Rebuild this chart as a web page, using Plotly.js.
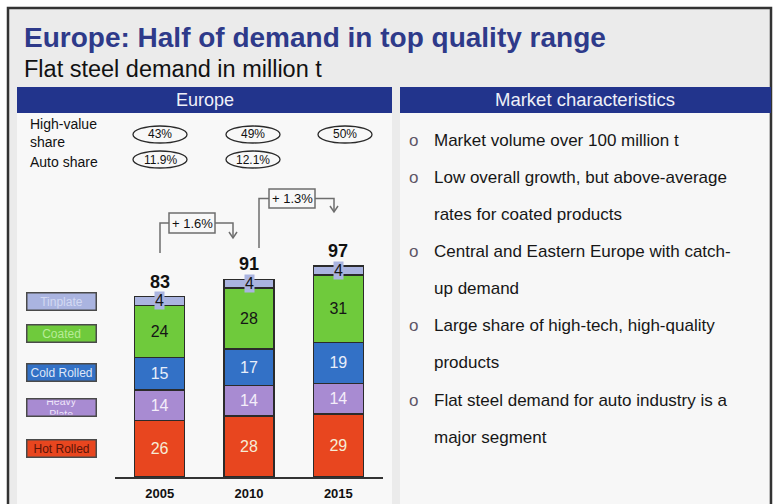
<!DOCTYPE html>
<html>
<head>
<meta charset="utf-8">
<script src="https://cdn.plot.ly/plotly-3.0.1.min.js"></script>
<style>
html,body{margin:0;padding:0;background:#ffffff;}
#chart{width:774px;height:504px;}
</style>
</head>
<body>
<div id="chart"></div>
<script>
// ---------------- DATA ----------------
const years = ['2005', '2010', '2015'];
const hotRolled = [26, 28, 29];
const heavyPlate = [14, 14, 14];
const coldRolled = [15, 17, 19];
const coated = [24, 28, 31];
const tinplate = [4, 4, 4];
const seriesNames = ['Hot Rolled', 'Heavy Plate', 'Cold Rolled', 'Coated', 'Tinplate'];
const highValueShare = ['43%', '49%', '50%'];
const autoShare = ['11.9%', '12.1%'];
const growthRates = ['+ 1.6%', '+ 1.3%'];
const titleText = 'Europe: Half of demand in top quality range';
const subtitleText = 'Flat steel demand in million t';
const leftHeader = 'Europe';
const rightHeader = 'Market characteristics';
const bulletLines = [
  ['Market volume over 100 million t'],
  ['Low overall growth, but above-average', 'rates for coated products'],
  ['Central and Eastern Europe with catch-', 'up demand'],
  ['Large share of high-tech, high-quality', 'products'],
  ['Flat steel demand for auto industry is a', 'major segment']
];

// ---------------- STYLE ----------------
const W = 774, H = 504;
const FONT = 'Liberation Sans, Arial, Helvetica, sans-serif';
const colors = {
  'Hot Rolled': '#e8461f',
  'Heavy Plate': '#a88bd2',
  'Cold Rolled': '#3371c6',
  'Coated': '#6fca3c',
  'Tinplate': '#aab4e0'
};
const labelColors = {
  'Hot Rolled': '#f6ecd6',
  'Heavy Plate': '#f4eefa',
  'Cold Rolled': '#e8eefa',
  'Coated': '#151515',
  'Tinplate': '#151515'
};
const legendTextColors = {
  'Hot Rolled': '#5a1408',
  'Heavy Plate': '#efe6fa',
  'Cold Rolled': '#dfe7f8',
  'Coated': '#b8ec98',
  'Tinplate': '#d3d9f2'
};
const px = x => x / W;
const py = y => 1 - y / H;

const seriesData = [hotRolled, heavyPlate, coldRolled, coated, tinplate];

// ---------------- TRACES ----------------
const traces = seriesNames.map((name, i) => ({
  type: 'bar',
  name: name,
  x: years,
  y: seriesData[i],
  marker: { color: colors[name], line: { color: '#2b2b2b', width: 1.5 } },
  text: name === 'Tinplate' ? undefined : seriesData[i].map(String),
  textposition: name === 'Tinplate' ? 'none' : 'inside',
  insidetextanchor: 'middle',
  textangle: 0,
  constraintext: 'none',
  textfont: { family: FONT, size: 16, color: labelColors[name] },
  hoverinfo: 'x+y+name',
  showlegend: false
}));

// ---------------- SHAPES ----------------
const shapes = [];
function rectPx(x0, y0, x1, y1, fill, lineColor, lw) {
  shapes.push({ type: 'rect', xref: 'paper', yref: 'paper', x0: px(x0), x1: px(x1), y0: py(y0), y1: py(y1),
    fillcolor: fill, line: { color: lineColor || fill, width: lw === undefined ? 0 : lw }, layer: 'below' });
}
function pathPx(pts, color, lw) {
  const d = pts.map((p, i) => (i ? 'L' : 'M') + px(p[0]).toFixed(5) + ',' + py(p[1]).toFixed(5)).join(' ');
  shapes.push({ type: 'path', xref: 'paper', yref: 'paper', path: d, line: { color: color, width: lw } });
}
function ellipsePx(cx, cy, w, h) {
  shapes.push({ type: 'circle', xref: 'paper', yref: 'paper', x0: px(cx - w / 2), x1: px(cx + w / 2),
    y0: py(cy + h / 2), y1: py(cy - h / 2), line: { color: '#2a2a2a', width: 1.3 }, fillcolor: 'rgba(0,0,0,0)' });
}

// outer frame
rectPx(8, 8, 771, 520, '#ebebeb', '#333333', 2.5);
// headers
rectPx(17, 87, 392, 113, '#22348c');
rectPx(400, 87, 771, 113, '#22348c');
// panels
rectPx(17, 113, 392, 520, '#f8f8f8');
rectPx(400, 113, 769, 520, '#f7f7f7');

// ellipses
const ellX = [160, 253, 345];
highValueShare.forEach((t, i) => ellipsePx(ellX[i], 134.5, 54, 17));
autoShare.forEach((t, i) => ellipsePx(ellX[i], 159.5, 54, 17));

// growth brackets
const gCol = '#6e6e6e';
const brackets = [
  { xs: 160, yb: 253, ym: 223, bx0: 169, bx1: 215, by0: 213, by1: 233, xe: 233, ye: 238 },
  { xs: 259, yb: 248, ym: 198.5, bx0: 269, bx1: 315, by0: 189, by1: 208, xe: 334, ye: 212 }
];
brackets.forEach(b => {
  pathPx([[b.xs, b.yb], [b.xs, b.ym], [b.bx0, b.ym]], gCol, 1.5);
  pathPx([[b.bx1, b.ym], [b.xe, b.ym], [b.xe, b.ye]], gCol, 1.5);
  pathPx([[b.xe - 4, b.ye - 6], [b.xe, b.ye], [b.xe + 4, b.ye - 6]], gCol, 1.5);
  shapes.push({ type: 'rect', xref: 'paper', yref: 'paper', x0: px(b.bx0), x1: px(b.bx1), y0: py(b.by1), y1: py(b.by0),
    line: { color: gCol, width: 1.5 }, fillcolor: 'rgba(255,255,255,0)' });
});

// ---------------- ANNOTATIONS ----------------
const ann = [];
function textPx(x, y, text, size, color, opts) {
  ann.push(Object.assign({ xref: 'paper', yref: 'paper', x: px(x), y: py(y), text: text, showarrow: false,
    xanchor: 'center', yanchor: 'middle', font: { family: FONT, size: size, color: color } }, opts || {}));
}
textPx(22, 38, titleText, 28, '#2e3a8a', { xanchor: 'left', font: { family: FONT, size: 28, color: '#2e3a8a', weight: 'bold' } });
textPx(22, 69, subtitleText, 23.5, '#111111', { xanchor: 'left' });
textPx(204.5, 100, leftHeader, 18, '#eef0f8');
textPx(585, 100, rightHeader, 18.5, '#eef0f8');

textPx(28, 133.5, 'High-value<br>share', 14, '#111111', { xanchor: 'left', align: 'left' });
textPx(28, 162, 'Auto share', 14, '#111111', { xanchor: 'left' });
highValueShare.forEach((t, i) => textPx(ellX[i], 134.5, t, 12, '#111111'));
autoShare.forEach((t, i) => textPx(ellX[i], 159.5, t, 12, '#111111'));
growthRates.forEach((t, i) => {
  const b = brackets[i];
  textPx((b.bx0 + b.bx1) / 2, (b.by0 + b.by1) / 2, t, 13, '#111111');
});

// legend boxes
const legY = { 'Tinplate': 301.5, 'Coated': 333, 'Cold Rolled': 372, 'Heavy Plate': 407, 'Hot Rolled': 448 };
const legText = { 'Heavy Plate': 'Heavy<br>Plate' };
seriesNames.forEach(n => {
  const hp = n === 'Heavy Plate';
  ann.push({ xref: 'paper', yref: 'paper', x: px(61), y: py(legY[n]), text: legText[n] || n, showarrow: false,
    xanchor: 'center', yanchor: 'middle', width: 66, height: 14, bgcolor: colors[n], bordercolor: '#4a4a4a',
    borderwidth: 1.5, borderpad: 1, valign: 'middle',
    font: { family: FONT, size: hp ? 10.5 : 12, color: legendTextColors[n] } });
});

// tinplate labels and totals (data coordinates; category index on x)
years.forEach((yr, i) => {
  const below = hotRolled[i] + heavyPlate[i] + coldRolled[i] + coated[i];
  const total = below + tinplate[i];
  ann.push({ xref: 'x', yref: 'y', x: i, y: below + tinplate[i] / 2, text: String(tinplate[i]), showarrow: false,
    xanchor: 'center', yanchor: 'middle', bgcolor: colors['Tinplate'], borderpad: 0,
    font: { family: FONT, size: 16, color: '#151515' } });
  ann.push({ xref: 'x', yref: 'y', x: i, y: total, text: String(total), showarrow: false,
    xanchor: 'center', yanchor: 'bottom', yshift: 3,
    font: { family: FONT, size: 18, color: '#111111', weight: 'bold' } });
});

// right panel bullets
let lineIdx = 0;
bulletLines.forEach(lines => {
  lines.forEach((ln, j) => {
    const y = 140 + 37.15 * lineIdx;
    if (j === 0) textPx(413, y, 'o', 17, '#5e5566');
    textPx(432, y, ln, 17, '#161616', { xanchor: 'left' });
    lineIdx++;
  });
});

// ---------------- LAYOUT ----------------
const pxPerUnit = 2.173;
const yMax = 130;
const layout = {
  width: W, height: H,
  margin: { l: 0, r: 0, t: 0, b: 0 },
  paper_bgcolor: '#ffffff',
  plot_bgcolor: 'rgba(0,0,0,0)',
  barmode: 'stack',
  bargap: 0.44,
  showlegend: false,
  font: { family: FONT },
  xaxis: {
    type: 'category',
    domain: [px(115), px(383)],
    range: [-0.5, 2.5],
    showline: true, linecolor: '#333333', linewidth: 2,
    ticks: '', showgrid: false, zeroline: false,
    tickfont: { family: FONT, size: 13, color: '#111111', weight: 'bold' },
    ticklabelstandoff: 3,
    fixedrange: true
  },
  yaxis: {
    domain: [py(477), py(477 - yMax * pxPerUnit)],
    range: [0, yMax],
    visible: false,
    fixedrange: true
  },
  shapes: shapes,
  annotations: ann
};

Plotly.newPlot('chart', traces, layout, { staticPlot: true, displayModeBar: false });
</script>
</body>
</html>
